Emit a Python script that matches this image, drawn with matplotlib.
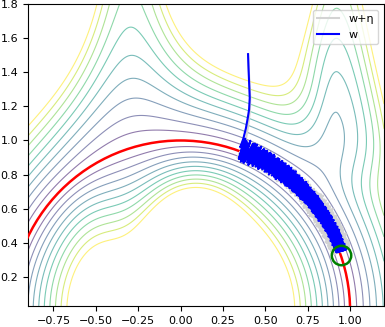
import numpy as np
import matplotlib.pyplot as plt
from matplotlib.patches import Circle

# plot window (the contour grid covers exactly this)
x_range = (-0.9, 1.2)
y_range = (0.03, 1.8)

# contour levels of the landscape
level_step = 0.0375
n_levels = 10

# target point on the circle
target = (0.944, 0.33)

# w: straight drop from the start, then a noisy walk along the circle
w_head_x = [0.398, 0.401, 0.405, 0.408, 0.404, 0.396, 0.385, 0.370, 0.352]
w_head_y = [1.506, 1.42, 1.33, 1.25, 1.18, 1.13, 1.07, 1.01, 0.96]
# w + eta follows slightly to the right during the drop
g_head_x = [0.398, 0.402, 0.407, 0.411, 0.409, 0.404, 0.396, 0.386, 0.366]

# angle (deg) along the circle for the noisy part
band_angle = [
    69.5, 68.9, 69.3, 68.4, 68.7, 67.9, 68.3, 67.2, 67.6, 66.9,
    66.4, 66.8, 65.9, 66.1, 65.2, 65.7, 64.8, 65.0, 64.3, 64.6,
    63.7, 64.0, 63.1, 63.5, 62.6, 62.8, 62.0, 62.4, 61.5, 61.7,
    60.9, 61.2, 60.3, 60.6, 59.8, 59.9, 59.0, 59.4, 58.6, 58.8,
    57.9, 58.3, 57.3, 57.6, 56.8, 57.0, 56.1, 56.5, 55.7, 55.9,
    55.0, 55.3, 54.4, 54.8, 53.9, 54.1, 53.2, 53.6, 52.8, 53.0,
    52.1, 52.4, 51.5, 51.9, 51.0, 51.2, 50.3, 50.7, 49.9, 50.0,
    49.1, 49.5, 48.6, 48.8, 47.9, 48.3, 47.4, 47.6, 46.8, 47.1,
    46.2, 46.5, 45.6, 45.9, 45.0, 45.3, 44.5, 44.7, 43.8, 44.1,
    43.3, 43.5, 42.6, 43.0, 42.1, 42.3, 41.5, 41.8, 40.9, 41.2,
    40.3, 40.6, 39.8, 40.0, 39.1, 39.5, 38.6, 38.8, 38.0, 38.3,
    37.4, 37.7, 36.8, 37.1, 36.3, 36.5, 35.6, 36.0, 35.1, 35.4,
    34.5, 34.8, 34.0, 34.2, 33.3, 33.7, 32.8, 33.1, 32.2, 32.5,
    31.7, 31.9, 31.0, 31.4, 30.5, 30.8, 29.9, 30.2, 29.4, 29.6,
    28.8, 29.0, 28.1, 28.5, 27.6, 27.9, 27.0, 27.3, 26.5, 26.7,
    25.9, 26.2, 25.3, 25.6, 24.8, 25.0, 24.2, 24.5, 23.7, 23.9,
    23.1, 23.4, 22.6, 22.8, 22.1, 22.4, 21.7, 21.9, 21.3, 21.5,
    21.0, 21.2, 20.7, 20.9, 20.5, 20.7, 20.4, 20.6, 20.3, 20.5,
]
# radial jitter of w around the circle
w_dr = [
    0.065, -0.055, 0.070, -0.050, 0.060, -0.065, 0.050, -0.060, 0.070, -0.045,
    0.060, -0.065, 0.065, -0.040, 0.065, -0.055, 0.050, -0.065, 0.055, -0.050,
    0.065, -0.050, 0.045, -0.060, 0.060, -0.045, 0.055, -0.055, 0.060, -0.050,
    0.050, -0.060, 0.060, -0.045, 0.055, -0.050, 0.060, -0.040, 0.055, -0.055,
    0.045, -0.050, 0.055, -0.045, 0.055, -0.055, 0.045, -0.040, 0.055, -0.050,
    0.050, -0.045, 0.055, -0.050, 0.045, -0.055, 0.055, -0.040, 0.050, -0.045,
    0.055, -0.045, 0.045, -0.050, 0.050, -0.040, 0.055, -0.045, 0.045, -0.050,
    0.045, -0.045, 0.050, -0.040, 0.045, -0.045, 0.050, -0.040, 0.045, -0.045,
    0.040, -0.045, 0.050, -0.040, 0.045, -0.040, 0.045, -0.045, 0.040, -0.040,
    0.045, -0.040, 0.040, -0.045, 0.040, -0.040, 0.045, -0.035, 0.040, -0.040,
    0.040, -0.040, 0.045, -0.035, 0.040, -0.035, 0.040, -0.040, 0.040, -0.035,
    0.040, -0.035, 0.040, -0.040, 0.035, -0.040, 0.040, -0.035, 0.040, -0.035,
    0.035, -0.040, 0.040, -0.035, 0.040, -0.035, 0.035, -0.040, 0.040, -0.030,
    0.040, -0.035, 0.035, -0.030, 0.040, -0.035, 0.030, -0.035, 0.040, -0.030,
    0.035, -0.035, 0.040, -0.030, 0.035, -0.030, 0.040, -0.030, 0.035, -0.035,
    0.035, -0.030, 0.035, -0.030, 0.035, -0.035, 0.030, -0.030, 0.035, -0.030,
    0.030, -0.035, 0.030, -0.030, 0.035, -0.030, 0.030, -0.030, 0.030, -0.030,
    0.030, -0.030, 0.035, -0.025, 0.030, -0.030, 0.030, -0.025, 0.030, -0.025,
]
# radial jitter of w + eta
g_dr = [
    -0.050, 0.055, -0.045, 0.060, -0.050, 0.045, -0.055, 0.050, -0.045, 0.055,
    -0.055, 0.045, -0.050, 0.055, -0.045, 0.060, -0.050, 0.045, -0.055, 0.050,
    -0.045, 0.055, -0.060, 0.045, -0.050, 0.055, -0.045, 0.050, -0.055, 0.045,
    -0.050, 0.060, -0.045, 0.050, -0.055, 0.045, -0.050, 0.055, -0.045, 0.050,
    -0.055, 0.050, -0.045, 0.055, -0.060, 0.045, -0.050, 0.050, -0.045, 0.055,
    -0.045, 0.055, -0.050, 0.045, -0.055, 0.050, -0.060, 0.045, -0.050, 0.055,
    -0.050, 0.045, -0.055, 0.050, -0.045, 0.055, -0.050, 0.060, -0.045, 0.050,
    -0.055, 0.050, -0.045, 0.055, -0.050, 0.045, -0.055, 0.050, -0.060, 0.045,
    -0.050, 0.055, -0.045, 0.050, -0.055, 0.060, -0.045, 0.050, -0.050, 0.055,
    -0.045, 0.050, -0.055, 0.045, -0.050, 0.055, -0.060, 0.050, -0.045, 0.055,
    -0.060, 0.055, -0.065, 0.060, -0.055, 0.065, -0.060, 0.070, -0.060, 0.055,
    -0.065, 0.060, -0.055, 0.065, -0.070, 0.055, -0.060, 0.065, -0.055, 0.060,
    -0.055, 0.065, -0.060, 0.055, -0.065, 0.070, -0.055, 0.060, -0.065, 0.060,
    -0.065, 0.055, -0.060, 0.065, -0.055, 0.060, -0.065, 0.060, -0.060, 0.065,
    -0.060, 0.065, -0.055, 0.060, -0.065, 0.060, -0.060, 0.065, -0.055, 0.060,
    -0.055, 0.060, -0.065, 0.055, -0.060, 0.065, -0.055, 0.060, -0.060, 0.055,
    -0.060, 0.055, -0.060, 0.060, -0.055, 0.060, -0.055, 0.060, -0.055, 0.055,
    -0.050, 0.055, -0.055, 0.050, -0.050, 0.050, -0.045, 0.050, -0.045, 0.045,
]


def sig(t):
    return 1.0 / (1.0 + np.exp(-t))


def landscape(x, y):
    # distance to the unit circle, stretched by two ridges
    r = np.hypot(x, y)
    out = np.clip(r - 1, 0, 1)
    wl = 0.2 + 0.2 * sig((y - 0.8) / 0.15)
    ridge_l = np.exp(-((x + 0.30) / wl) ** 2) * (0.6 + 0.4 * sig((y - 0.7) / 0.12))
    depth_l = 0.51 + 0.18 * out
    wr = np.where(x < 0.93, 0.22 + 0.12 * sig((y - 1.4) / 0.12), 0.4)
    ridge_r = np.exp(-((x - 0.93) / wr) ** 2) * sig((y - 0.8) / 0.1)
    depth_r = 0.64 + 0.06 * sig((r - 1.5) / 0.15)
    bump = np.exp(-((x - 0.1) ** 2 + (y - 0.7) ** 2) / 0.08) * (r < 1)
    base = np.where(r < 1, 1.15, 0.96)
    m = base + 0.3 * bump - depth_l * ridge_l - depth_r * ridge_r
    return np.abs(r - 1) * m


gx = np.linspace(x_range[0], x_range[1], 400)
gy = np.linspace(y_range[0], y_range[1], 400)
X, Y = np.meshgrid(gx, gy)
Z = landscape(X, Y)
levels = level_step * np.arange(1, n_levels + 1)

th = np.radians(band_angle)
w_x = w_head_x + list((1.01 + np.array(w_dr)) * np.cos(th))
w_y = w_head_y + list((1.01 + np.array(w_dr)) * np.sin(th))
g_x = g_head_x + list((1.01 + np.array(g_dr)) * np.cos(th))
g_y = w_head_y + list((1.01 + np.array(g_dr)) * np.sin(th))

fig = plt.figure(figsize=(3.85, 3.27), dpi=100)
ax = fig.add_axes([28 / 385, 21 / 327, 356 / 385, 302 / 327])

ax.contour(X, Y, Z, levels=levels, cmap="viridis", vmin=0, vmax=levels[-1],
           linewidths=0.8, alpha=0.6)
ax.add_patch(Circle((0, 0), 1.0, fill=False, color="red", lw=1.8, zorder=3))
ax.plot(g_x, g_y, color="lightgray", lw=1.5, label="w+η", zorder=4)
ax.plot(w_x, w_y, color="blue", lw=1.5, label="w", zorder=5)
ax.plot(*target, "o", ms=14, mfc="none", mec="green", mew=1.8, zorder=6)

ax.set_xlim(*x_range)
ax.set_ylim(*y_range)
ax.set_xticks([-0.75, -0.5, -0.25, 0.0, 0.25, 0.5, 0.75, 1.0])
ax.set_yticks([0.2, 0.4, 0.6, 0.8, 1.0, 1.2, 1.4, 1.6, 1.8])
ax.tick_params(labelsize=8)
ax.legend(loc="upper right", fontsize=8)

fig.savefig("out.png", dpi=100)
